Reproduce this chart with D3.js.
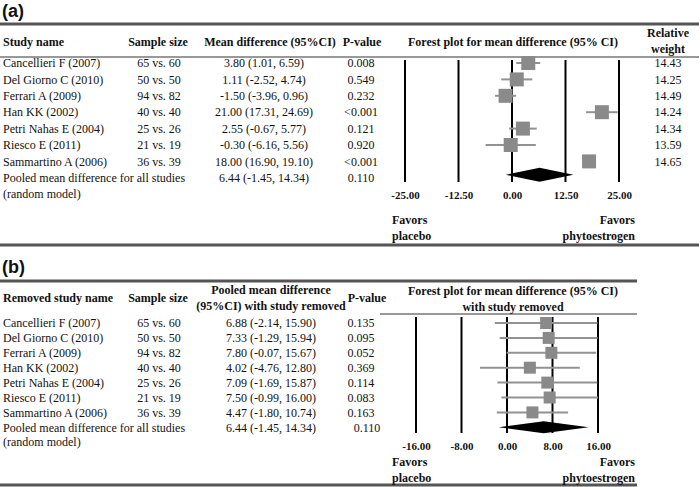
<!DOCTYPE html>
<html>
<head>
<meta charset="utf-8">
<script src="https://cdn.jsdelivr.net/npm/d3@7"></script>
<style>
  body { margin: 0; background: #fff; }
  svg text { font-family: "Liberation Serif", "Times New Roman", serif; fill: #111; }
  .bold { font-weight: bold; }
</style>
</head>
<body>
<div id="container"></div>
<script>
// Data
const studies = ['Cancellieri F (2007)', 'Del Giorno C (2010)', 'Ferrari A (2009)', 'Han KK (2002)',
  'Petri Nahas E (2004)', 'Riesco E (2011)', 'Sammartino A (2006)'];
const sampleSizes = ['65 vs. 60', '50 vs. 50', '94 vs. 82', '40 vs. 40', '25 vs. 26', '21 vs. 19', '36 vs. 39'];

// panel (a): each study
const mdA = [3.80, 1.11, -1.50, 21.00, 2.55, -0.30, 18.00];
const loA = [1.01, -2.52, -3.96, 17.31, -0.67, -6.16, 16.90];
const hiA = [6.59, 4.74, 0.96, 24.69, 5.77, 5.56, 19.10];
const pA = ['0.008', '0.549', '0.232', '<0.001', '0.121', '0.920', '<0.001'];
const weightsA = ['14.43', '14.25', '14.49', '14.24', '14.34', '13.59', '14.65'];
const ticksA = [-25, -12.5, 0, 12.5, 25];

// panel (b): leave-one-out
const mdB = [6.88, 7.33, 7.80, 4.02, 7.09, 7.50, 4.47];
const loB = [-2.14, -1.29, -0.07, -4.76, -1.69, -0.99, -1.80];
const hiB = [15.90, 15.94, 15.67, 12.80, 15.87, 16.00, 10.74];
const pB = ['0.135', '0.095', '0.052', '0.369', '0.114', '0.083', '0.163'];
const ticksB = [-16, -8, 0, 8, 16];

// pooled
const pooled = { md: 6.44, lo: -1.45, hi: 14.34, p: '0.110' };

const width = 700, height = 487;
// plain hyphen minus, like the original table
const locale = d3.formatLocale({ decimal: '.', thousands: ',', grouping: [3], currency: ['$', ''], minus: '-' });
const fmt = locale.format('.2f');
const ci = (m, l, h) => `${fmt(m)} (${fmt(l)}, ${fmt(h)})`;

const svg = d3.select('#container').append('svg')
  .attr('width', width)
  .attr('height', height);

function txt(g, x, y, s, anchor, cls, size) {
  return g.append('text')
    .attr('x', x).attr('y', y)
    .attr('dy', '0.35em')
    .attr('text-anchor', anchor || 'start')
    .attr('class', cls || null)
    .style('font-size', (size || 12) + 'px')
    .text(s);
}

function panel(opt) {
  const g = svg.append('g');
  const y = d3.scaleLinear().domain([0, 1]).range([opt.rowY0, opt.rowY0 + opt.rowStep]);
  const x = d3.scaleLinear().domain(opt.domain).range(opt.xRange);

  // panel label
  g.append('text').attr('x', 2).attr('y', opt.labelY)
    .attr('dy', '0.35em')
    .style('font-family', '"Liberation Sans", Arial, sans-serif')
    .style('font-weight', 'bold').style('font-size', '18px')
    .style('fill', '#111')
    .text(opt.label);

  // rules
  g.append('line').attr('x1', 0).attr('x2', opt.ruleRight)
    .attr('y1', opt.topRule).attr('y2', opt.topRule)
    .attr('stroke', '#555').attr('stroke-width', 3);
  g.append('line').attr('x1', 0).attr('x2', opt.ruleRight)
    .attr('y1', opt.bottomRule).attr('y2', opt.bottomRule)
    .attr('stroke', '#555').attr('stroke-width', 3);
  g.append('line').attr('x1', opt.headLineX0).attr('x2', opt.ruleRight)
    .attr('y1', opt.headLine).attr('y2', opt.headLine)
    .attr('stroke', '#333').attr('stroke-width', 1);

  // headers
  opt.headers.forEach(h => {
    h.lines.forEach((s, i) => txt(g, h.x, h.y + i * 16, s, h.anchor, 'bold'));
  });

  // table rows
  studies.forEach((s, i) => {
    txt(g, 3, y(i), s);
    txt(g, 159, y(i), sampleSizes[i], 'middle');
    txt(g, opt.ciX, y(i), ci(opt.md[i], opt.lo[i], opt.hi[i]), 'middle');
    txt(g, 361, y(i), opt.p[i], 'middle');
    if (opt.weights) txt(g, 668, y(i), opt.weights[i], 'middle');
  });
  const n = studies.length;
  txt(g, 3, y(n), 'Pooled mean difference for all studies');
  txt(g, 3, y(n + 1), '(random model)');
  txt(g, opt.ciX, y(n), ci(pooled.md, pooled.lo, pooled.hi), 'middle');
  txt(g, opt.pooledPX, y(n), pooled.p, 'middle');

  // forest gridlines
  g.selectAll('.grid').data(opt.ticks).enter().append('line')
    .attr('x1', d => x(d)).attr('x2', d => x(d))
    .attr('y1', opt.gridTop).attr('y2', opt.gridBottom)
    .attr('stroke', '#000').attr('stroke-width', 2);

  // tick labels
  const axis = d3.axisBottom(x).tickValues(opt.ticks).tickFormat(fmt).tickSize(0);
  const ax = g.append('g').attr('transform', `translate(0,${opt.tickY})`).call(axis);
  ax.select('.domain').remove();
  ax.selectAll('text')
    .style('font-family', '"Liberation Serif", "Times New Roman", serif')
    .style('font-weight', 'bold').style('font-size', '11px').style('fill', '#111')
    .attr('y', 0).attr('dy', '0.35em');

  // CI lines + squares
  const rows = d3.range(n);
  g.selectAll('.ci').data(rows).enter().append('line')
    .attr('x1', i => x(opt.lo[i])).attr('x2', i => x(opt.hi[i]))
    .attr('y1', i => y(i) + opt.markDy).attr('y2', i => y(i) + opt.markDy)
    .attr('stroke', '#929292').attr('stroke-width', 2);
  g.selectAll('.sq').data(rows).enter().append('rect')
    .attr('x', i => x(opt.md[i]) - opt.sq / 2)
    .attr('y', i => y(i) + opt.markDy - opt.sq / 2)
    .attr('width', opt.sq).attr('height', opt.sq)
    .attr('fill', '#8a8a8a');

  // pooled diamond
  const dy = y(n) + opt.diamondDy;
  g.append('path')
    .attr('d', `M${x(pooled.lo)},${dy}L${x(pooled.md)},${dy - opt.dh}L${x(pooled.hi)},${dy}L${x(pooled.md)},${dy + opt.dh}Z`)
    .attr('fill', '#000');

  // favors labels
  txt(g, 392, opt.favY, 'Favors', 'start', 'bold');
  txt(g, 392, opt.favY + 16, 'placebo', 'start', 'bold');
  txt(g, 635, opt.favY, 'Favors', 'end', 'bold');
  txt(g, 635, opt.favY + 16, 'phytoestrogen', 'end', 'bold');
}

panel({
  label: '(a)', labelY: 11,
  topRule: 24, bottomRule: 245, ruleRight: 699, headLine: 57, headLineX0: 0,
  headers: [
    { x: 3, y: 42, lines: ['Study name'], anchor: 'start' },
    { x: 158, y: 42, lines: ['Sample size'], anchor: 'middle' },
    { x: 270, y: 42, lines: ['Mean difference (95%CI)'], anchor: 'middle' },
    { x: 362, y: 42, lines: ['P-value'], anchor: 'middle' },
    { x: 513, y: 42, lines: ['Forest plot for mean difference (95% CI)'], anchor: 'middle' },
    { x: 668, y: 33, lines: ['Relative', 'weight'], anchor: 'middle' }
  ],
  rowY0: 63, rowStep: 16.4, ciX: 264, pooledPX: 361,
  md: mdA, lo: loA, hi: hiA, p: pA, weights: weightsA,
  domain: [-25, 25], xRange: [405, 619], ticks: ticksA,
  gridTop: 60, gridBottom: 182, tickY: 195,
  markDy: 0, sq: 14, diamondDy: -3, dh: 7,
  favY: 220
});

panel({
  label: '(b)', labelY: 267,
  topRule: 281, bottomRule: 485, ruleRight: 637, headLine: 314, headLineX0: 380,
  headers: [
    { x: 3, y: 298, lines: ['Removed study name'], anchor: 'start' },
    { x: 158, y: 298, lines: ['Sample size'], anchor: 'middle' },
    { x: 271, y: 290, lines: ['Pooled mean difference', '(95%CI) with study removed'], anchor: 'middle' },
    { x: 367, y: 298, lines: ['P-value'], anchor: 'middle' },
    { x: 513, y: 291, lines: ['Forest plot for mean difference (95% CI)', 'with study removed'], anchor: 'middle' }
  ],
  rowY0: 323, rowStep: 14.9, ciX: 271, pooledPX: 367,
  md: mdB, lo: loB, hi: hiB, p: pB, weights: null,
  domain: [-16, 16], xRange: [416, 598], ticks: ticksB,
  gridTop: 317, gridBottom: 433, tickY: 446,
  markDy: 0, sq: 12, diamondDy: 0, dh: 6,
  favY: 462
});
</script>
</body>
</html>
